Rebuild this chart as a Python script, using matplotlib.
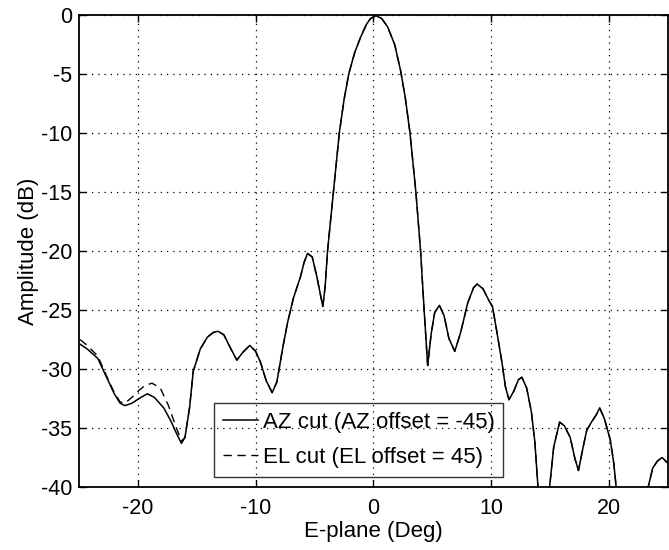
import matplotlib
matplotlib.use("Agg")
import matplotlib.pyplot as plt

plt.rcParams['font.family'] = ['Liberation Sans', 'DejaVu Sans']
plt.rcParams['axes.unicode_minus'] = False

# AZ cut (solid) - angle in deg, amplitude in dB (values below -40 are clipped by the axes)
az_x = [-24.9, -24.3, -23.4, -22.7, -22.0, -21.5, -21.1, -20.5, -19.9, -19.2, -18.6,
        -17.8, -17.2, -16.7, -16.3, -16.0, -15.6, -15.3, -14.7, -14.1, -13.6, -13.2,
        -12.7, -12.2, -11.6, -11.1, -10.5, -10.0, -9.6, -9.1, -8.6, -8.2, -7.7, -7.3,
        -6.8, -6.2, -5.9, -5.6, -5.2, -4.8, -4.3, -4.1, -3.9, -3.4, -2.9, -2.5, -2.1,
        -1.6, -1.1, -0.6, -0.25, 0.2, 0.7, 1.2, 1.8, 2.3, 2.7, 3.1, 3.6, 4.0, 4.3, 4.6,
        4.9, 5.2, 5.6, 6.0, 6.4, 6.9, 7.4, 8.0, 8.5, 8.8, 9.3, 9.8, 10.1, 10.5, 10.9,
        11.2, 11.5, 11.9, 12.3, 12.6, 13.0, 13.4, 13.7, 14.0, 14.2, 14.5, 14.9, 15.3,
        15.8, 16.2, 16.7, 17.1, 17.4, 17.8, 18.1, 18.5, 18.9, 19.2, 19.6, 20.1, 20.4,
        20.6, 21.0, 22.5, 23.2, 23.7, 24.1, 24.5, 24.9]
az_y = [-27.9, -28.3, -29.1, -30.6, -32.1, -32.9, -33.1, -32.9, -32.5, -32.1, -32.4,
        -33.3, -34.4, -35.5, -36.3, -35.8, -33.2, -30.2, -28.3, -27.3, -26.9, -26.8,
        -27.1, -28.1, -29.25, -28.6, -28.0, -28.5, -29.4, -31.0, -32.0, -31.1, -28.2,
        -26.1, -24.0, -22.2, -21.0, -20.2, -20.5, -22.2, -24.7, -23.0, -20.0, -15.0,
        -10.0, -7.2, -5.0, -3.2, -1.9, -0.8, -0.3, -0.05, -0.3, -1.0, -2.5, -4.7, -7.0,
        -10.0, -15.0, -20.0, -25.0, -29.7, -27.0, -25.2, -24.6, -25.5, -27.4, -28.5,
        -26.9, -24.4, -23.1, -22.8, -23.2, -24.2, -24.7, -27.0, -29.4, -31.5, -32.6,
        -31.9, -30.9, -30.7, -31.6, -33.6, -36.2, -40.5, -44.0, -46.0, -40.5, -36.6,
        -34.5, -34.8, -35.8, -37.6, -38.6, -36.6, -35.2, -34.5, -33.9, -33.3, -34.2,
        -36.0, -38.0, -40.0, -43.0, -43.0, -40.5, -38.4, -37.8, -37.5, -37.9]

# EL cut (dashed) - only differs from AZ on the far left
el_x = [-24.9, -24.3, -23.4, -22.7, -22.0, -21.5, -21.1, -20.5, -19.9, -19.4, -18.8,
        -18.1, -17.4, -16.8, -16.3] + az_x[15:]
el_y = [-27.5, -28.0, -28.9, -30.5, -32.0, -32.8, -32.9, -32.4, -31.8, -31.4, -31.2,
        -31.6, -33.1, -34.8, -36.1] + az_y[15:]

x_ticks = [-20, -10, 0, 10, 20]
y_ticks = [0, -5, -10, -15, -20, -25, -30, -35, -40]

fig = plt.figure(figsize=(6.69, 5.5), dpi=100)
ax = fig.add_axes([0.118, 0.1145, 0.8805, 0.8582])

ax.plot(az_x, az_y, color='black', lw=1.1, ls='-', label='AZ cut (AZ offset = -45)')
ax.plot(el_x, el_y, color='black', lw=1.0, ls=(0, (6, 4)), label='EL cut (EL offset = 45)')

ax.set_xlim(-25, 25)
ax.set_ylim(-40, 0)
ax.set_xticks(x_ticks)
ax.set_yticks(y_ticks)
ax.tick_params(direction='in', top=True, right=True, labelsize=15.5, length=5, width=1)
ax.tick_params(axis='x', pad=8)
ax.tick_params(axis='y', pad=5)
ax.grid(True, color='black', ls=(0, (1, 4)), lw=0.9)
for s in ax.spines.values():
    s.set_linewidth(1.3)

ax.set_xlabel('E-plane (Deg)', fontsize=16, labelpad=1)
ax.set_ylabel('Amplitude (dB)', fontsize=16, labelpad=1)

leg = ax.legend(loc='lower left', bbox_to_anchor=(0.229, 0.021), fontsize=16,
                frameon=True, fancybox=False, edgecolor='black', facecolor='none',
                borderaxespad=0, handlelength=1.6, handletextpad=0.2,
                borderpad=0.4, labelspacing=0.65)
leg.get_frame().set_linewidth(1.0)

fig.savefig('out.png', dpi=100)
